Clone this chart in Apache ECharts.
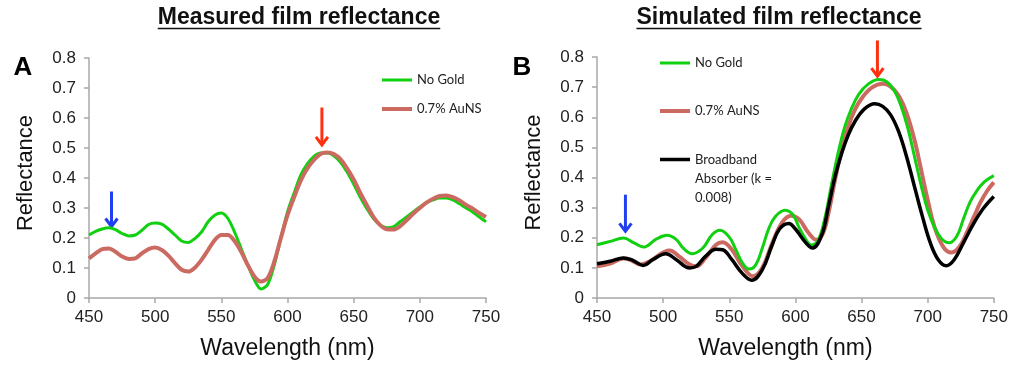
<!DOCTYPE html>
<html>
<head>
<meta charset="utf-8">
<script src="https://cdn.jsdelivr.net/npm/echarts@6/dist/echarts.min.js"></script>
<style>
  html, body { margin: 0; padding: 0; background: #fff; }
  #chart { width: 1011px; height: 365px; }
</style>
</head>
<body>
<div id="chart"></div>
<script>
// measured spectra (panel A), one value every 5 nm from 450 to 750
const measuredWavelengths = [
  450, 455, 460, 465, 470, 475, 480, 485, 490, 495, 500, 505, 510, 515, 520, 525,
  530, 535, 540, 545, 550, 555, 560, 565, 570, 575, 580, 585, 590, 595, 600, 605,
  610, 615, 620, 625, 630, 635, 640, 645, 650, 655, 660, 665, 670, 675, 680, 685,
  690, 695, 700, 705, 710, 715, 720, 725, 730, 735, 740, 745, 750
];
const measuredNoGold = [
  0.210, 0.222, 0.230, 0.234, 0.228, 0.215, 0.207, 0.210, 0.226, 0.245, 0.250, 0.246, 0.230, 0.210, 0.190, 0.185,
  0.198, 0.220, 0.254, 0.276, 0.283, 0.265, 0.220, 0.165, 0.110, 0.060, 0.030, 0.045, 0.110, 0.200, 0.287, 0.350,
  0.410, 0.447, 0.472, 0.483, 0.483, 0.474, 0.452, 0.420, 0.380, 0.336, 0.298, 0.265, 0.243, 0.234, 0.237, 0.254,
  0.270, 0.287, 0.303, 0.318, 0.327, 0.333, 0.333, 0.327, 0.314, 0.300, 0.287, 0.270, 0.254
];
const measuredAuNS = [
  0.132, 0.149, 0.163, 0.165, 0.154, 0.138, 0.130, 0.132, 0.149, 0.163, 0.168, 0.160, 0.141, 0.116, 0.094, 0.088,
  0.101, 0.127, 0.160, 0.193, 0.210, 0.210, 0.190, 0.154, 0.110, 0.072, 0.055, 0.066, 0.121, 0.200, 0.276, 0.336,
  0.391, 0.432, 0.460, 0.480, 0.485, 0.480, 0.463, 0.432, 0.395, 0.350, 0.309, 0.270, 0.243, 0.229, 0.228, 0.239,
  0.259, 0.281, 0.300, 0.318, 0.331, 0.340, 0.342, 0.336, 0.325, 0.310, 0.298, 0.283, 0.270
];

// simulated spectra (panel B), [wavelength nm, reflectance]
const simulatedNoGold = [
  [450, 0.177], [460, 0.188], [470, 0.199], [478, 0.183], [485, 0.169], [495, 0.196], [503, 0.208],
  [510, 0.194], [515, 0.166], [522, 0.147], [530, 0.166], [537, 0.210], [543, 0.225], [550, 0.202],
  [555, 0.160], [560, 0.116], [565, 0.096], [570, 0.110], [575, 0.166], [580, 0.232], [585, 0.271],
  [592, 0.291], [598, 0.277], [603, 0.232], [608, 0.194], [612, 0.176], [617, 0.190], [622, 0.260],
  [627, 0.370], [632, 0.476], [637, 0.564], [642, 0.625], [648, 0.677], [655, 0.710], [663, 0.725],
  [669, 0.718], [675, 0.686], [680, 0.636], [685, 0.564], [690, 0.470], [695, 0.375], [700, 0.292],
  [705, 0.237], [710, 0.199], [716, 0.183], [722, 0.205], [727, 0.262], [732, 0.318], [737, 0.355],
  [743, 0.386], [750, 0.406]
];
const simulatedAuNS = [
  [450, 0.105], [460, 0.114], [470, 0.131], [475, 0.127], [483, 0.111], [490, 0.122], [505, 0.158],
  [512, 0.138], [520, 0.111], [525, 0.105], [532, 0.133], [540, 0.177], [545, 0.185], [552, 0.160],
  [560, 0.105], [568, 0.072], [575, 0.100], [582, 0.177], [590, 0.251], [597, 0.273], [603, 0.260],
  [610, 0.216], [616, 0.193], [621, 0.216], [625, 0.282], [630, 0.393], [635, 0.492], [640, 0.570],
  [645, 0.625], [651, 0.668], [658, 0.699], [666, 0.711], [672, 0.702], [678, 0.672], [684, 0.614],
  [690, 0.525], [695, 0.426], [700, 0.326], [705, 0.238], [712, 0.168], [718, 0.151], [724, 0.170],
  [730, 0.221], [735, 0.270], [740, 0.318], [745, 0.356], [750, 0.384]
];
const simulatedBroadband = [
  [450, 0.114], [460, 0.122], [470, 0.133], [477, 0.125], [485, 0.108], [492, 0.127], [502, 0.147],
  [510, 0.127], [520, 0.100], [525, 0.105], [532, 0.138], [540, 0.162], [545, 0.160], [552, 0.127],
  [560, 0.081], [567, 0.059], [575, 0.094], [582, 0.171], [588, 0.229], [595, 0.247], [600, 0.229],
  [607, 0.188], [613, 0.166], [620, 0.210], [625, 0.304], [630, 0.404], [635, 0.481], [640, 0.542],
  [645, 0.586], [652, 0.627], [660, 0.645], [666, 0.636], [672, 0.608], [678, 0.553], [684, 0.470],
  [690, 0.370], [696, 0.271], [702, 0.183], [708, 0.127], [714, 0.107], [720, 0.127], [727, 0.183],
  [735, 0.249], [742, 0.297], [750, 0.337]
];

// annotation arrows: [wavelength, reflectance at tail, reflectance at tip]
const arrowsA = { blue: [467, 0.355, 0.235], red: [626, 0.635, 0.507] };
const arrowsB = { blue: [471.5, 0.343, 0.218], red: [662, 0.855, 0.733] };

const GREEN = "#10d010";
const ROSE = "#cb6a60";
const BLACK = "#000000";
const FONT = "Liberation Sans";
const LEGEND_FONT = "Lato";

const chart = echarts.init(document.getElementById("chart"));

function zip(xs, ys) {
  return xs.map((x, i) => [x, ys[i]]);
}

function xAxisFor(gridIndex, namePadding) {
  return {
    gridIndex,
    type: "value",
    min: 450,
    max: 750,
    interval: 50,
    name: "Wavelength (nm)",
    nameLocation: "middle",
    nameGap: 39,
    nameTextStyle: { fontFamily: FONT, fontSize: 23, color: "#111", padding: namePadding },
    axisLine: { lineStyle: { color: "#a8a8a8", width: 1.5 } },
    axisTick: { show: true, length: 5, lineStyle: { color: "#a8a8a8", width: 1.5 } },
    axisLabel: { fontFamily: FONT, fontSize: 17, color: "#222", margin: 11 },
    splitLine: { show: false },
  };
}

function yAxisFor(gridIndex) {
  return {
    gridIndex,
    type: "value",
    min: 0,
    max: 0.8,
    interval: 0.1,
    name: "Reflectance",
    nameLocation: "middle",
    nameGap: 52,
    nameTextStyle: { fontFamily: FONT, fontSize: 22, color: "#111", padding: [0, 0, 0, 10] },
    axisLine: { show: true, lineStyle: { color: "#a8a8a8", width: 1.5 } },
    axisTick: { show: true, length: 5, lineStyle: { color: "#a8a8a8", width: 1.5 } },
    axisLabel: { fontFamily: FONT, fontSize: 17, color: "#222", margin: 13 },
    splitLine: { show: false },
  };
}

function lineSeries(name, data, color, width, gridIndex, smooth) {
  return {
    name,
    type: "line",
    xAxisIndex: gridIndex,
    yAxisIndex: gridIndex,
    data,
    symbol: "none",
    smooth,
    lineStyle: { color, width },
    itemStyle: { color },
    animation: false,
  };
}

// one legend per entry so each can sit where the original put it
function legendAt(name, left, top, thickness, formatter) {
  const legend = {
    data: [name],
    left,
    top,
    orient: "vertical",
    padding: 0,
    icon: "rect",
    itemWidth: 30,
    itemHeight: thickness,
    selectedMode: false,
    textStyle: { fontFamily: LEGEND_FONT, fontSize: 13, color: "#222", lineHeight: 14 },
  };
  if (formatter) {
    legend.formatter = formatter;
    legend.textStyle.lineHeight = 19;
  }
  return legend;
}

const BROADBAND = "Broadband Absorber (k = 0.008)";

chart.setOption({
  animation: false,
  grid: [
    { left: 89, right: 525, top: 58, bottom: 65 },
    { left: 597, right: 17, top: 57, bottom: 67 },
  ],
  xAxis: [xAxisFor(0, [0, 0, 0, 0]), xAxisFor(1, [0, 20, 0, 0])],
  yAxis: [yAxisFor(0), yAxisFor(1)],
  legend: [
    legendAt("No Gold", 382, 73, 3),
    legendAt("0.7% AuNS", 382, 102, 4),
    legendAt("No Gold ", 660, 56, 3),
    legendAt("0.7% AuNS ", 660, 104, 4),
    // two empty lines above keep the first text line level with the swatch
    legendAt(BROADBAND, 660, 112, 3.5, () => "\n\nBroadband\nAbsorber (k =\n0.008)"),
  ],
  series: [
    lineSeries("No Gold", zip(measuredWavelengths, measuredNoGold), GREEN, 3, 0, 0.3),
    lineSeries("0.7% AuNS", zip(measuredWavelengths, measuredAuNS), ROSE, 4, 0, 0.3),
    lineSeries("0.7% AuNS ", simulatedAuNS, ROSE, 4, 1, 0.4),
    lineSeries("No Gold ", simulatedNoGold, GREEN, 3, 1, 0.4),
    lineSeries(BROADBAND, simulatedBroadband, BLACK, 3.5, 1, 0.4),
  ],
});

// titles with underline, panel letters and arrows
function textWidth(text, font) {
  const ctx = document.createElement("canvas").getContext("2d");
  ctx.font = font;
  return ctx.measureText(text).width;
}

function titleGraphic(text, cx) {
  const font = "bold 23px '" + FONT + "'";
  const w = textWidth(text, font);
  return [
    {
      type: "text",
      x: cx,
      y: 18,
      style: { text, font, fill: "#111", align: "center", verticalAlign: "middle" },
    },
    {
      type: "line",
      shape: { x1: cx - w / 2, y1: 28.5, x2: cx + w / 2, y2: 28.5 },
      style: { stroke: "#111", lineWidth: 1.5 },
    },
  ];
}

function arrowGraphic(gridIndex, spec, color) {
  const tail = chart.convertToPixel({ gridIndex }, [spec[0], spec[1]]);
  const tip = chart.convertToPixel({ gridIndex }, [spec[0], spec[2]]);
  return [
    {
      type: "line",
      shape: { x1: tail[0], y1: tail[1], x2: tip[0], y2: tip[1] - 2 },
      style: { stroke: color, lineWidth: 3 },
    },
    {
      type: "polyline",
      shape: { points: [[tip[0] - 6, tip[1] - 9], [tip[0], tip[1] - 1], [tip[0] + 6, tip[1] - 9]] },
      style: { stroke: color, lineWidth: 3, fill: null, lineJoin: "miter" },
    },
  ];
}

const panelLetter = (text, x, y) => ({
  type: "text",
  x,
  y,
  style: { text, font: "bold 26px '" + FONT + "'", fill: "#000", align: "center", verticalAlign: "middle" },
});

chart.setOption({
  graphic: [
    ...titleGraphic("Measured film reflectance", 299),
    ...titleGraphic("Simulated film reflectance", 779),
    panelLetter("A", 23, 68),
    panelLetter("B", 522, 68),
    ...arrowGraphic(0, arrowsA.blue, "#2040f0"),
    ...arrowGraphic(0, arrowsA.red, "#ff3010"),
    ...arrowGraphic(1, arrowsB.blue, "#2040f0"),
    ...arrowGraphic(1, arrowsB.red, "#ff3010"),
  ],
});
</script>
</body>
</html>
